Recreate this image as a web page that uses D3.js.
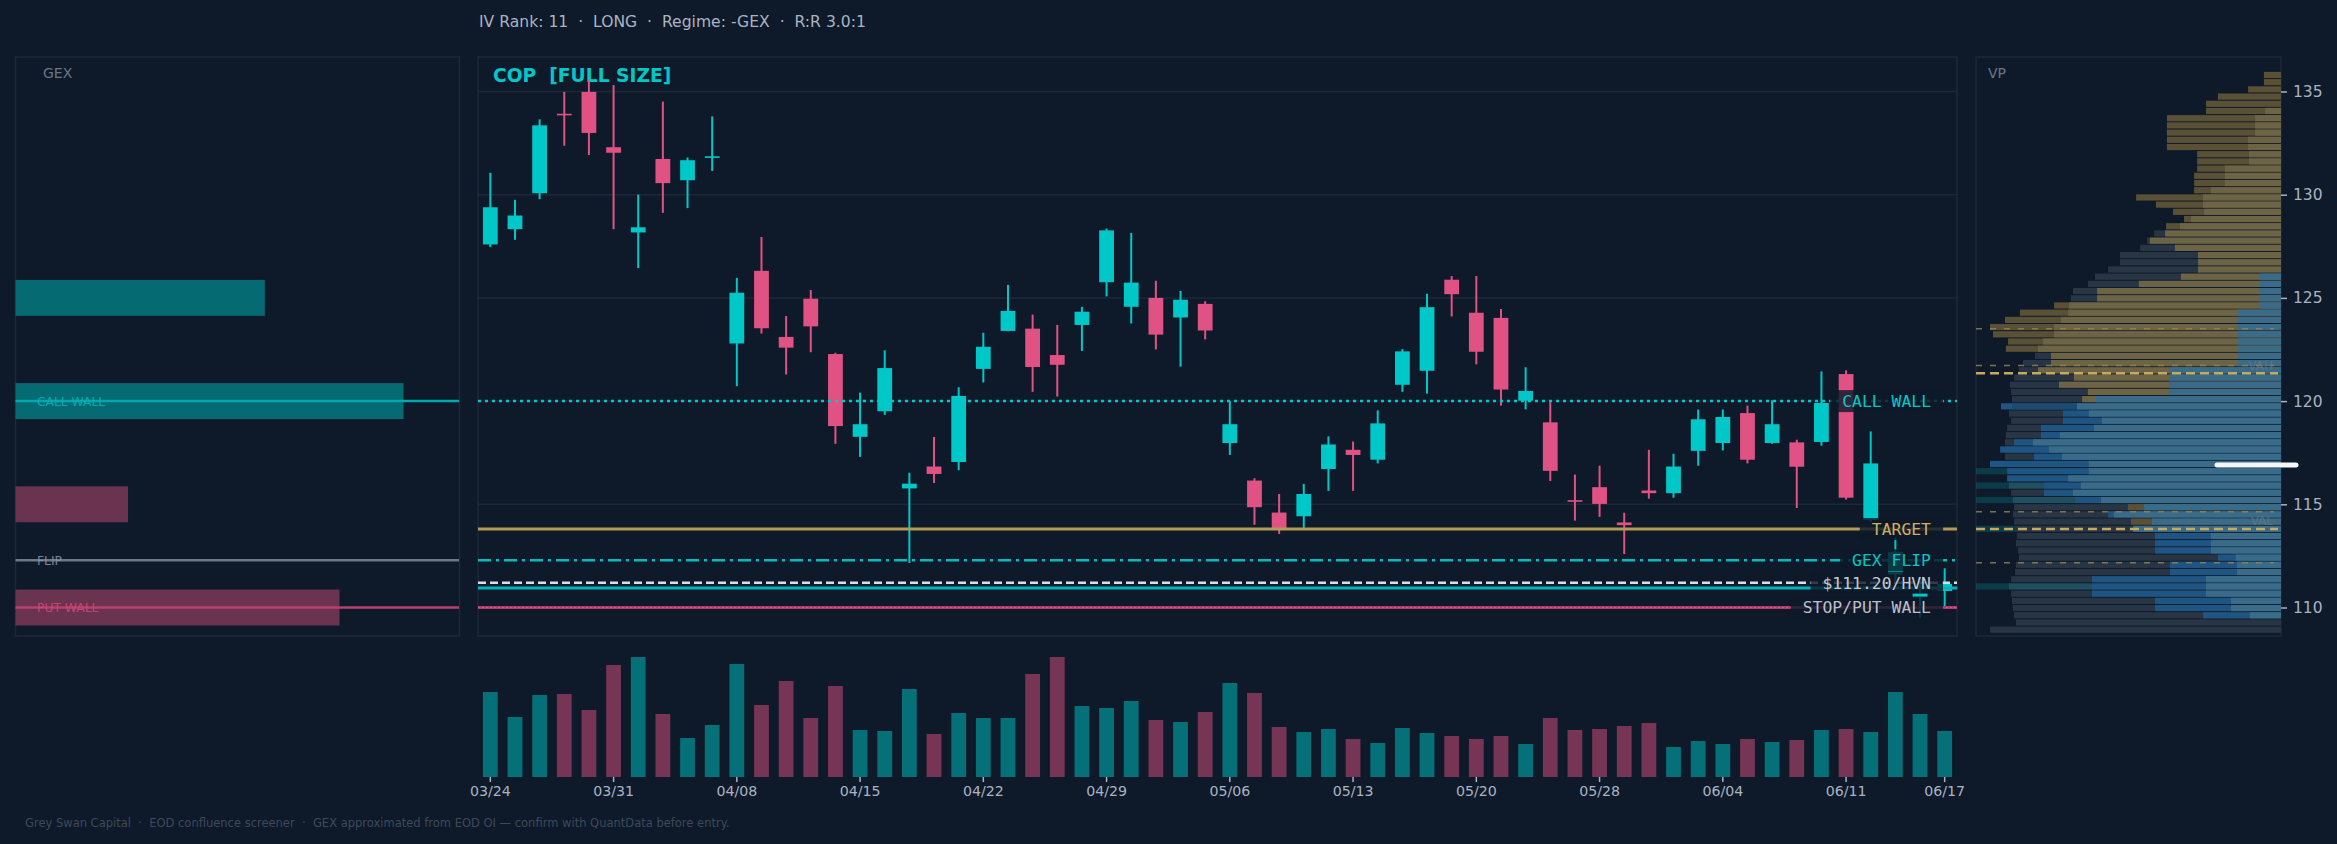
<!DOCTYPE html>
<html>
<head>
<meta charset="utf-8">
<script src="https://cdn.jsdelivr.net/npm/d3@7"></script>
<style>
  body { margin: 0; background: #0e1a2a; }
  svg { display: block; }
  text { white-space: pre; }
</style>
</head>
<body>
<svg id="chart" width="2337" height="844"></svg>
<script>
// ---- data ----
const dates = ['03/24','03/25','03/26','03/27','03/30','03/31','04/01','04/02','04/06','04/07',
  '04/08','04/09','04/10','04/13','04/14','04/15','04/16','04/17','04/20','04/21',
  '04/22','04/23','04/24','04/27','04/28','04/29','04/30','05/01','05/04','05/05',
  '05/06','05/07','05/08','05/11','05/12','05/13','05/14','05/15','05/18','05/19',
  '05/20','05/21','05/22','05/26','05/27','05/28','05/29','06/01','06/02','06/03',
  '06/04','06/05','06/08','06/09','06/10','06/11','06/12','06/15','06/16','06/17'];
const tickDates = ['03/24','03/31','04/08','04/15','04/22','04/29','05/06','05/13','05/20','05/28','06/04','06/11','06/17'];

const opens = [127.59,128.33,130.07,133.92,134.98,132.30,128.17,131.73,130.70,131.83,
  122.79,126.31,123.11,124.96,122.28,118.27,119.51,115.77,116.83,117.05,
  121.56,123.40,123.51,122.23,123.69,125.76,124.57,125.00,124.05,124.71,
  117.97,116.15,114.60,114.42,116.71,117.64,117.16,120.79,121.47,125.88,
  124.28,124.03,120.02,118.97,115.20,115.83,114.12,115.67,115.54,117.59,
  117.97,119.42,117.97,118.00,118.02,121.31,114.24,111.60,110.50,110.80];
const highs = [131.06,129.75,133.65,134.98,135.56,135.31,130.00,134.51,131.80,133.79,
  125.97,127.95,124.12,125.38,122.34,120.41,122.46,116.53,118.26,120.67,
  123.31,125.63,124.19,123.69,124.57,128.36,128.15,125.83,125.34,124.84,
  120.00,116.26,115.50,115.99,118.29,118.04,119.55,122.52,125.20,126.06,
  126.06,124.46,121.64,119.95,116.44,116.87,114.59,117.64,117.45,119.59,
  119.59,119.78,120.04,118.13,121.44,121.49,118.53,113.40,111.50,111.90];
const lows = [127.46,127.81,129.78,132.37,131.92,128.33,126.44,129.12,129.35,131.15,
  120.72,123.27,121.29,122.37,117.93,117.30,119.33,112.16,116.03,116.65,
  120.90,123.38,120.45,120.22,122.43,125.07,123.76,122.50,121.67,122.99,
  117.39,114.01,113.56,113.79,115.65,115.65,116.98,120.45,120.36,124.10,
  121.78,119.78,119.60,116.13,114.21,114.39,112.59,115.27,115.32,116.87,
  117.61,116.98,117.93,114.82,117.84,115.23,114.15,111.30,109.50,110.00];
const closes = [129.39,128.99,133.36,133.86,132.99,132.03,128.42,130.56,131.67,131.86,
  125.25,123.53,122.59,123.62,118.79,118.88,121.60,116.00,116.47,120.25,
  122.63,124.37,121.65,121.76,124.33,128.27,125.74,123.22,124.91,123.42,
  118.88,114.86,113.79,115.50,117.90,117.39,118.92,122.41,124.55,125.18,
  122.39,120.56,120.49,116.62,115.17,115.02,113.99,115.54,116.83,119.12,
  119.23,117.16,118.88,116.82,119.91,115.32,116.98,112.70,110.70,111.15];
// volume, millions of shares
const volumes = [8.5,6.0,8.2,8.3,6.7,11.2,12.0,6.3,3.9,5.2,
  11.3,7.2,9.6,5.9,9.1,4.7,4.6,8.8,4.3,6.4,
  5.9,5.9,10.3,12.0,7.1,6.9,7.6,5.7,5.5,6.5,
  9.4,8.4,5.0,4.5,4.8,3.8,3.4,4.9,4.4,4.1,
  3.8,4.1,3.3,5.9,4.7,4.8,5.1,5.4,3.0,3.6,
  3.3,3.8,3.5,3.7,4.7,4.8,4.5,8.5,6.3,4.6];

const priceTicks = [110, 115, 120, 125, 130, 135];

// key levels on the price chart
const levelNames  = ['CALL WALL', 'TARGET', 'GEX FLIP', '$111.20/HVN', 'ENTRY', 'STOP/PUT WALL'];
const levelPrices = [120.00, 113.80, 112.29, 111.20, 110.95, 110.00];
const levelLabels = ['CALL WALL', 'TARGET', 'GEX FLIP', '$111.20/HVN', '', 'STOP/PUT WALL'];

// gamma exposure by strike
const gexStrikes = [125, 120, 115, 110];
const gexValues  = [2.57, 4.00, -1.16, -3.34];
const gexLineNames  = ['CALL WALL', 'FLIP', 'PUT WALL'];
const gexLinePrices = [120.00, 112.29, 110.00];

// volume profile: 78 bins from the top, three stacked layers (length in % of panel)
const vpTop = 135.95, vpStep = 0.349;
const vpOuter = [5.6,5.6,10.8,20.7,24.6,24.6,37.4,37.4,37.4,37.4,
  37.4,27.5,27.5,27.5,28.5,28.5,28.5,47.5,41.0,35.4,
  31.8,37.7,41.6,43.9,46.2,52.8,52.8,56.7,61.0,63.3,
  68.2,68.9,74.4,85.6,90.5,95.4,94.4,89.5,90.2,80.7,
  84.6,85.9,87.5,88.9,88.5,88.2,91.8,89.2,88.5,89.8,
  90.2,90.5,92.1,90.5,95.4,89.8,89.8,89.2,88.5,87.9,
  87.5,87.9,87.5,87.2,86.6,86.9,86.2,85.9,86.9,87.2,
  88.5,89.2,88.5,88.2,87.9,87.5,86.9,95.4];
const vpMid = [0,0,0,0,0,0,0,0,0,0,
  0,0,0,0,0,0,0,0,0,0,
  0,0,0,0,0,0,0,0,32.8,46.6,
  60.3,60.3,69.5,69.8,72.1,74.4,74.4,78.0,79.7,75.4,
  75.4,79.7,67.9,72.8,63.3,65.2,88.2,71.5,71.5,78.7,
  78.7,87.5,90.5,81.0,89.8,0,0,77.7,77.7,67.5,
  50.2,56.7,49.2,0,41.3,41.3,41.3,20.7,36.4,36.4,
  62.0,62.0,62.0,41.3,41.3,25.6,0,0];
const vpInner = [0,0,0,0,0,5.2,8.5,8.5,8.5,10.8,
  10.8,10.5,10.5,18.4,18.4,18.4,23.0,25.6,25.6,25.2,
  29.5,33.1,38.0,43.0,34.8,27.2,27.2,27.2,7.1,7.1,
  7.1,7.1,7.1,14.2,14.2,14.2,14.2,14.2,14.2,14.2,
  14.2,36.7,36.7,36.7,36.7,60.7,66.9,63.0,58.7,61.3,
  72.5,81.3,76.1,71.8,63.0,63.0,69.8,65.6,68.2,59.0,
  44.9,54.8,42.3,48.5,23.0,23.0,23.0,14.8,14.4,14.4,
  24.6,24.6,24.6,16.4,16.4,10.2,0,0];
// colour of outer / mid / inner layer per bin
const vpTone = ['y--','y--','y--','y--','y--','y-g','y-g','y-g','y-g','y-g',
  'y-g','y-g','y-g','y-g','y-g','y-g','y-g','y-g','y-g','y-g',
  'y-g','y-g','k-g','k-g','k-g','k-g','k-g','k-g','kgs','kgs',
  'kgs','kgs','ygs','ygs','ygs','ygs','ygs','ygs','ygs','kgs',
  'kgs','kgs','kgs','kgs','kgs','kgs','bds','kbs','kbs','kbs',
  'kbs','kbs','bbs','kbs','bbs','b-s','b-s','kbs','kbs','kbs',
  'kys','kbs','kys','k-s','kbs','kbs','kbs','kbs','kbs','kbs',
  'kbs','kbs','kbs','kbs','kbs','kbs','k--','k--'];
const vpHiBins = [55, 57, 59, 63, 71];
const vpHiLen  = [10.2, 22.3, 32.5, 12.8, 38.0];
const vpThinLevels  = [123.50, 121.72, 114.64, 112.17];
const vpThickLevels = [121.35, 113.80];
const vpMarkerPrice = 116.9;

// ---- drawing ----
const teal = '#00c8c8', pink = '#e05283', grid = '#1b2837', border = '#1c2939';
const tickCol = '#a9b3c1';
const svg = d3.select('#chart');

const x = d3.scaleBand().domain(dates).range([478, 1957]);
const cx = d => x(d) + x.bandwidth() / 2;
const bw = x.bandwidth() * 0.6;
const y = d3.scaleLinear().domain([108.62, 136.67]).range([636, 57]);
const yv = d3.scaleLinear().domain([0, 12.4]).range([777, 653]);

// top line + footer
svg.append('text').attr('x', 479).attr('y', 27)
  .attr('font-family', 'DejaVu Sans').attr('font-size', 15.6).attr('fill', tickCol)
  .text('IV Rank: 11  \u00b7  LONG  \u00b7  Regime: -GEX  \u00b7  R:R 3.0:1');
svg.append('text').attr('x', 25).attr('y', 827)
  .attr('font-family', 'DejaVu Sans').attr('font-size', 11.5).attr('fill', '#3d4959')
  .text('Grey Swan Capital  \u00b7  EOD confluence screener  \u00b7  GEX approximated from EOD OI \u2014 confirm with QuantData before entry.');

// panel frames
[[15.5, 459.5], [478, 1957], [1976, 2281]].forEach(p => {
  svg.append('rect').attr('x', p[0]).attr('y', 57).attr('width', p[1] - p[0]).attr('height', 579)
    .attr('fill', 'none').attr('stroke', border).attr('stroke-width', 1.5);
});

// ===== GEX panel =====
const gx = d3.scaleLinear().domain([0, d3.max(gexValues, Math.abs) * 1.143]).range([15.5, 459]);
const gexG = svg.append('g');
gexG.selectAll('rect.gex').data(gexStrikes).join('rect')
  .attr('x', gx(0))
  .attr('y', d => y(d + 0.87))
  .attr('width', (d, i) => gx(Math.abs(gexValues[i])) - gx(0))
  .attr('height', d => y(d - 0.87) - y(d + 0.87))
  .attr('fill', (d, i) => gexValues[i] >= 0 ? '#066a72' : '#6a3350');
const gexLineCol = ['#00a8b0', '#6c7886', '#b8406a'];
const gexTextCol = ['#0bb3ba', '#8a96a2', '#d04a7a'];
gexLinePrices.forEach((p, i) => {
  gexG.append('line').attr('x1', 15.5).attr('x2', 459).attr('y1', y(p)).attr('y2', y(p))
    .attr('stroke', gexLineCol[i]).attr('stroke-width', 2.5);
  gexG.append('text').attr('x', 37).attr('y', y(p)).attr('dy', '0.36em')
    .attr('font-family', 'DejaVu Sans').attr('font-size', 12.3)
    .attr('fill', gexTextCol[i]).attr('opacity', 0.85).text(gexLineNames[i]);
});
gexG.append('text').attr('x', 43).attr('y', 78).attr('font-family', 'DejaVu Sans')
  .attr('font-size', 14).attr('fill', '#6b7686').text('GEX');

// ===== price panel =====
const main = svg.append('g');
main.selectAll('line.grid').data(priceTicks).join('line')
  .attr('x1', 478).attr('x2', 1957).attr('y1', d => y(d)).attr('y2', d => y(d))
  .attr('stroke', grid).attr('stroke-width', 1.5);

main.append('text').attr('x', 493).attr('y', 82)
  .attr('font-family', 'DejaVu Sans').attr('font-weight', 'bold').attr('font-size', 18.7)
  .attr('fill', teal).text('COP  [FULL SIZE]');

const candles = main.selectAll('g.candle').data(dates).join('g');
candles.append('line')
  .attr('x1', d => cx(d)).attr('x2', d => cx(d))
  .attr('y1', (d, i) => y(highs[i])).attr('y2', (d, i) => y(lows[i]))
  .attr('stroke', (d, i) => closes[i] >= opens[i] ? teal : pink).attr('stroke-width', 2);
candles.append('rect')
  .attr('x', d => cx(d) - bw / 2).attr('width', bw)
  .attr('y', (d, i) => y(Math.max(opens[i], closes[i])))
  .attr('height', (d, i) => Math.max(1.6, Math.abs(y(opens[i]) - y(closes[i]))))
  .attr('fill', (d, i) => closes[i] >= opens[i] ? teal : pink);

// level lines
const lvlStyle = {
  'CALL WALL':     { stroke: teal, width: 2.5, dash: '3,4', text: teal },
  'TARGET':        { stroke: '#b39a55', width: 3, dash: null, text: '#d0b060' },
  'GEX FLIP':      { stroke: '#00bcc0', width: 2.5, dash: '13,5,3,5', text: teal },
  '$111.20/HVN':   { stroke: '#d8dde3', width: 2.5, dash: '8,4', text: '#c2c9d2' },
  'ENTRY':         { stroke: '#00b4bc', width: 3, dash: null, text: teal },
  'STOP/PUT WALL': { stroke: '#b03d68', width: 3, dash: null, text: '#b8c0ca' }
};
levelNames.forEach((n, i) => {
  const s = lvlStyle[n];
  main.append('line').attr('x1', 478).attr('x2', 1957)
    .attr('y1', y(levelPrices[i])).attr('y2', y(levelPrices[i]))
    .attr('stroke', s.stroke).attr('stroke-width', s.width)
    .attr('stroke-dasharray', s.dash);
  if (n === 'STOP/PUT WALL') {
    main.append('line').attr('x1', 478).attr('x2', 1957)
      .attr('y1', y(levelPrices[i])).attr('y2', y(levelPrices[i]))
      .attr('stroke', '#e05283').attr('stroke-width', 1.2).attr('stroke-dasharray', '2,2');
  }
});
levelNames.forEach((n, i) => {
  if (!levelLabels[i]) return;
  const s = lvlStyle[n];
  const box = main.append('rect');
  const t = main.append('text').attr('x', 1931).attr('y', y(levelPrices[i])).attr('dy', '0.36em')
    .attr('text-anchor', 'end').attr('font-family', 'DejaVu Sans Mono').attr('font-size', 16.4)
    .attr('fill', s.text).text(levelLabels[i]);
  const bb = t.node().getBBox();
  box.attr('x', bb.x - 12).attr('width', bb.width + 24)
    .attr('y', y(levelPrices[i]) - 11).attr('height', 22)
    .attr('fill', '#0e1a2a').attr('opacity', 0.82);
});

// ===== volume =====
svg.append('g').selectAll('rect').data(dates).join('rect')
  .attr('x', d => cx(d) - bw / 2).attr('width', bw)
  .attr('y', (d, i) => yv(volumes[i]))
  .attr('height', (d, i) => yv(0) - yv(volumes[i]))
  .attr('fill', (d, i) => closes[i] >= opens[i] ? '#057078' : '#763554');

const xAxis = svg.append('g').attr('transform', 'translate(0,777)')
  .call(d3.axisBottom(x).tickValues(tickDates).tickSize(5).tickPadding(4));
xAxis.select('.domain').remove();
xAxis.selectAll('line').attr('stroke', tickCol).attr('stroke-width', 1.5);
xAxis.selectAll('text').attr('fill', tickCol).attr('font-family', 'DejaVu Sans').attr('font-size', 14.2);

// ===== volume profile =====
const vpX = d3.scaleLinear().domain([0, 100]).range([2281, 1976]);
const vpXL = d3.scaleLinear().domain([0, 100]).range([1976, 2281]);
const toneCol = { k: '#283545', y: '#5a5036', g: '#6d6446', b: '#1f5583', d: '#1d4a72', s: '#3a6c89' };
const vp = svg.append('g');
const binTop = i => y(vpTop - i * vpStep);
const binH = i => binTop(i + 1) - binTop(i) - 1;
[vpOuter, vpMid, vpInner].forEach((arr, layer) => {
  vp.selectAll('rect.l' + layer).data(arr).join('rect')
    .attr('x', d => vpX(d)).attr('width', d => 2281 - vpX(d))
    .attr('y', (d, i) => binTop(i)).attr('height', (d, i) => binH(i))
    .attr('fill', (d, i) => toneCol[vpTone[i][layer]] || 'none');
});
vp.selectAll('rect.hi').data(vpHiBins).join('rect')
  .attr('x', 1976).attr('width', (d, i) => vpXL(vpHiLen[i]) - 1976)
  .attr('y', d => binTop(d)).attr('height', d => binH(d))
  .attr('fill', '#00bec8').attr('opacity', 0.2);
vpThinLevels.forEach(p => {
  vp.append('line').attr('x1', 1976).attr('x2', 2274).attr('y1', y(p)).attr('y2', y(p))
    .attr('stroke', '#9a8650').attr('stroke-width', 1.5).attr('stroke-dasharray', '6,8').attr('opacity', 0.8);
});
vpThickLevels.forEach(p => {
  vp.append('line').attr('x1', 1976).attr('x2', 2278).attr('y1', y(p)).attr('y2', y(p))
    .attr('stroke', '#c8aa5c').attr('stroke-width', 2.5).attr('stroke-dasharray', '9,5');
});
vp.append('text').attr('x', 2273).attr('y', y(121.72)).attr('dy', '0.36em').attr('text-anchor', 'end')
  .attr('font-family', 'DejaVu Sans').attr('font-size', 12).attr('fill', '#6f7c8c').attr('opacity', 0.6).text('VAH');
vp.append('text').attr('x', 2273).attr('y', y(114.2)).attr('dy', '0.36em').attr('text-anchor', 'end')
  .attr('font-family', 'DejaVu Sans').attr('font-size', 12).attr('fill', '#6f7c8c').attr('opacity', 0.6).text('VAL');
vp.append('line').attr('x1', 2217).attr('x2', 2296).attr('y1', y(vpMarkerPrice)).attr('y2', y(vpMarkerPrice))
  .attr('stroke', '#f4f6f8').attr('stroke-width', 5).attr('stroke-linecap', 'round');
vp.append('text').attr('x', 1988).attr('y', 78).attr('font-family', 'DejaVu Sans')
  .attr('font-size', 14).attr('fill', '#6b7686').text('VP');

const yAxis = svg.append('g').attr('transform', 'translate(2281,0)')
  .call(d3.axisRight(y).tickValues(priceTicks).tickSize(6).tickPadding(6));
yAxis.select('.domain').remove();
yAxis.selectAll('line').attr('stroke', tickCol).attr('stroke-width', 1.5);
yAxis.selectAll('text').attr('fill', tickCol).attr('font-family', 'DejaVu Sans').attr('font-size', 15.5);
</script>
</body>
</html>
